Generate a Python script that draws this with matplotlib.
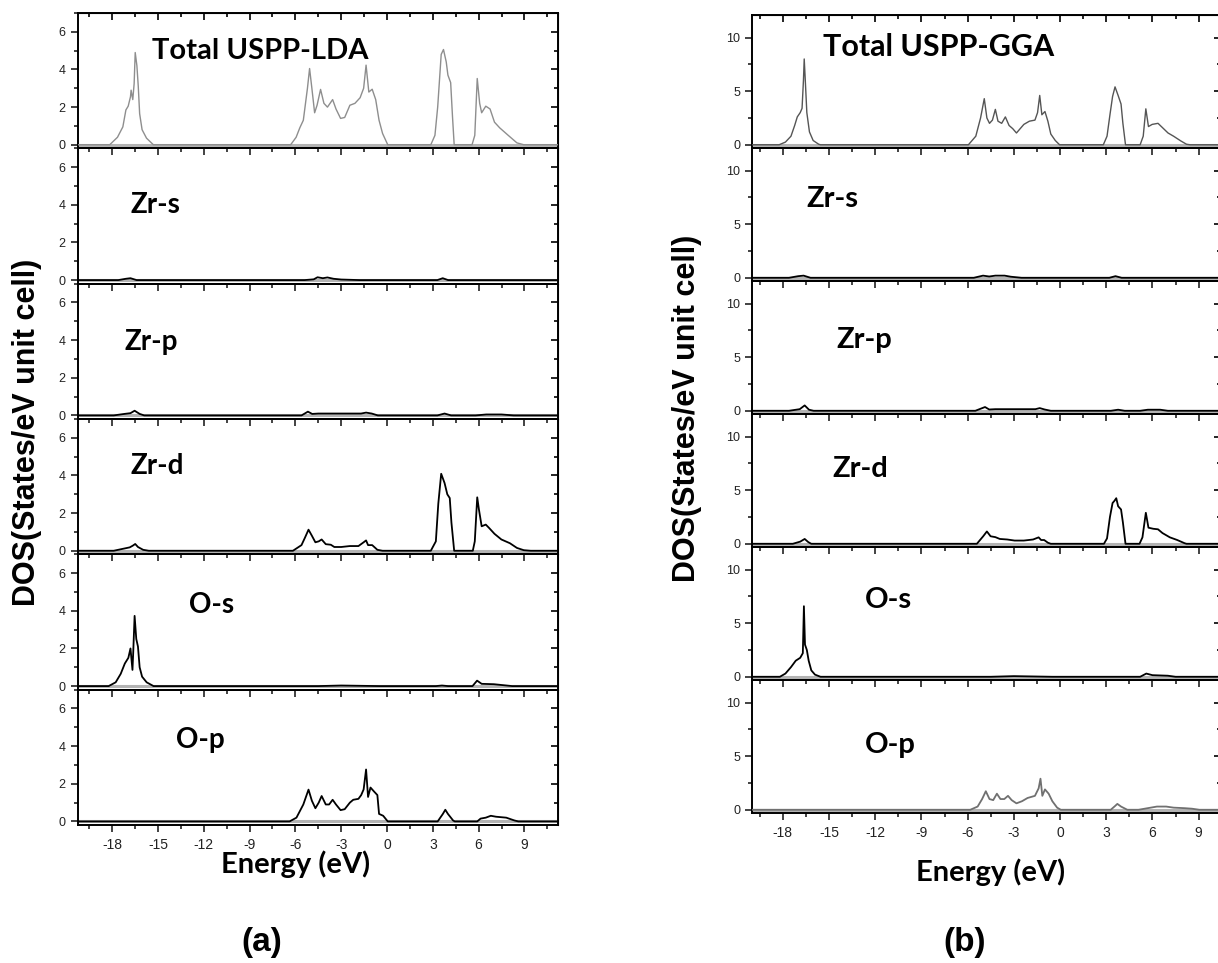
import matplotlib
matplotlib.use("Agg")
import matplotlib.pyplot as plt
import numpy as np
from matplotlib.ticker import MultipleLocator

plt.rcParams["axes.unicode_minus"] = False
plt.rcParams["font.family"] = "Liberation Sans"

# ---------------- (a) USPP-LDA ----------------
lda_tot_e = [-18.16, -17.65, -17.3, -17.1, -16.95, -16.8, -16.76, -16.65, -16.56, -16.49, -16.38, -16.29,
             -16.2, -16.04, -15.75, -15.3,
             -6.31, -5.95, -5.71, -5.48, -5.21, -5.07, -4.92, -4.74, -4.58, -4.35, -4.13, -3.9, -3.56,
             -3.34, -3.04, -2.77, -2.43, -2.1, -1.76, -1.53, -1.37, -1.19, -0.97, -0.74, -0.52, -0.29, 0.05,
             2.87, 3.14, 3.32, 3.55, 3.7, 3.88, 3.99, 4.17, 4.29, 4.4,
             5.57, 5.75, 5.91, 6.07, 6.2, 6.47, 6.75, 7.04, 7.38, 7.94, 8.51, 8.96]
lda_tot_d = [0, 0.4, 0.95, 1.85, 2.05, 2.55, 2.9, 2.4, 3.25, 4.9, 4.2, 3.1,
             1.65, 0.8, 0.35, 0,
             0, 0.4, 0.9, 1.3, 3.0, 4.05, 3.0, 1.7, 2.1, 2.94, 2.2, 2.0, 2.4,
             1.9, 1.4, 1.45, 2.1, 2.2, 2.5, 3.0, 4.23, 2.8, 2.95, 2.4, 1.3, 0.6, 0,
             0, 0.5, 2.0, 4.8, 5.06, 4.4, 3.7, 3.3, 1.5, 0,
             0, 0.5, 3.52, 2.2, 1.7, 2.05, 1.9, 1.2, 0.9, 0.5, 0.1, 0]

lda_zrs_e = [-17.6, -17.1, -16.8, -16.4, -5.4, -4.8, -4.55, -4.2, -3.9, -3.5, -3.0, -1.8, 3.3, 3.65, 4.0]
lda_zrs_d = [0, 0.07, 0.1, 0, 0, 0.04, 0.15, 0.1, 0.14, 0.07, 0.03, 0, 0, 0.1, 0]

lda_zrp_e = [-17.9, -17.2, -16.8, -16.53, -16.2, -15.9, -5.6, -5.18, -4.9, -4.5, -3.0, -1.7, -1.37, -1.0,
             -0.6, 3.3, 3.77, 4.2, 5.8, 6.5, 7.5, 8.3]
lda_zrp_d = [0, 0.08, 0.12, 0.25, 0.08, 0, 0, 0.2, 0.08, 0.1, 0.1, 0.1, 0.15, 0.1,
             0, 0, 0.1, 0, 0, 0.05, 0.05, 0]

lda_zrd_e = [-17.9, -17.2, -16.85, -16.65, -16.49, -16.31, -15.97, -15.6,
             -6.16, -5.6, -5.37, -5.14, -4.92, -4.69, -4.47, -4.28, -4.01, -3.68, -3.45, -3.0, -2.43,
             -1.87, -1.53, -1.37, -1.24, -0.97, -0.63, -0.29,
             2.87, 3.2, 3.36, 3.55, 3.77, 3.95, 4.11, 4.22, 4.4,
             5.62, 5.75, 5.91, 6.02, 6.2, 6.47, 6.7, 7.04, 7.49, 8.05, 8.51, 8.96, 9.41]
lda_zrd_d = [0, 0.12, 0.18, 0.27, 0.36, 0.2, 0.05, 0,
             0, 0.3, 0.7, 1.12, 0.8, 0.45, 0.5, 0.6, 0.35, 0.32, 0.2, 0.2, 0.25,
             0.25, 0.45, 0.55, 0.3, 0.3, 0.05, 0,
             0, 0.5, 2.5, 4.09, 3.6, 3.0, 2.8, 1.5, 0,
             0, 0.5, 2.84, 2.2, 1.3, 1.39, 1.2, 0.9, 0.6, 0.4, 0.15, 0.03, 0]

lda_os_e = [-18.23, -17.77, -17.44, -17.17, -16.94, -16.8, -16.67, -16.62, -16.53, -16.42, -16.31,
            -16.2, -16.04, -15.74, -15.29,
            -4.5, -3.0, -0.5, 3.2, 3.6, 4.0, 5.6, 5.9, 6.2, 7.0, 7.6, 8.2]
lda_os_d = [0, 0.2, 0.65, 1.2, 1.5, 2.0, 0.86, 1.8, 3.73, 2.5, 2.1,
            1.0, 0.5, 0.2, 0,
            0, 0.03, 0, 0, 0.03, 0, 0, 0.29, 0.12, 0.1, 0.05, 0]

lda_op_e = [-6.38, -5.93, -5.48, -5.14, -4.92, -4.69, -4.47, -4.28, -4.01, -3.79, -3.56, -3.34,
            -3.04, -2.77, -2.43, -2.21, -1.87, -1.69, -1.53, -1.37, -1.24, -1.08, -0.86, -0.63,
            -0.52, -0.25, 0.05,
            3.32, 3.66, 3.82, 3.99, 4.33, 4.44,
            5.91, 6.13, 6.47, 6.8, 7.14, 7.81, 8.35, 8.6]
lda_op_d = [0, 0.2, 0.9, 1.69, 1.1, 0.7, 1.0, 1.35, 0.9, 0.9, 1.15, 0.9,
            0.6, 0.65, 1.0, 1.15, 1.2, 1.4, 1.7, 2.76, 1.3, 1.8, 1.6, 1.4,
            0.4, 0.3, 0,
            0, 0.4, 0.62, 0.4, 0.05, 0,
            0, 0.15, 0.2, 0.3, 0.25, 0.2, 0.05, 0]

# ---------------- (b) USPP-GGA ----------------
gga_tot_e = [-18.24, -17.83, -17.47, -17.23, -17.06, -16.87, -16.75, -16.66, -16.61, -16.54, -16.44,
             -16.27, -16.03, -15.67, -15.55,
             -5.95, -5.47, -5.16, -4.92, -4.75, -4.58, -4.39, -4.2, -4.03, -3.79, -3.55, -3.31, -3.07,
             -2.83, -2.59, -2.35, -1.99, -1.63, -1.46, -1.32, -1.18, -0.98, -0.79, -0.6, -0.31, -0.03,
             2.81, 3.05, 3.24, 3.41, 3.57, 3.77, 3.96, 4.08, 4.25,
             5.2, 5.4, 5.57, 5.74, 5.98, 6.36, 6.65, 7.01, 7.37, 7.85, 8.21, 8.45]
gga_tot_d = [0, 0.25, 0.8, 1.8, 2.6, 3.0, 3.4, 6.0, 8.0, 6.0, 3.0,
             1.2, 0.4, 0.05, 0,
             0, 0.8, 2.5, 4.3, 2.5, 2.0, 2.3, 3.3, 2.2, 2.0, 2.6, 1.8, 1.5,
             1.1, 1.5, 1.9, 2.2, 2.3, 3.0, 4.6, 2.8, 3.1, 2.2, 1.0, 0.4, 0,
             0, 0.8, 2.8, 4.5, 5.4, 4.6, 3.8, 2.0, 0,
             0, 0.8, 3.35, 1.7, 1.9, 2.0, 1.6, 1.1, 0.8, 0.35, 0.05, 0]

gga_zrs_e = [-17.6, -17.0, -16.65, -16.2, -5.6, -5.0, -4.6, -4.2, -3.6, -3.2, -2.5, 3.2, 3.6, 4.0]
gga_zrs_d = [0, 0.15, 0.2, 0, 0, 0.2, 0.12, 0.2, 0.2, 0.1, 0, 0, 0.15, 0]

gga_zrp_e = [-17.6, -16.9, -16.58, -16.3, -16.0, -5.5, -4.87, -4.6, -4.2, -3.0, -1.6, -1.32, -1.0,
             -0.6, 3.3, 3.77, 4.2, 5.2, 5.7, 6.5, 7.0]
gga_zrp_d = [0, 0.15, 0.5, 0.1, 0, 0, 0.35, 0.12, 0.15, 0.15, 0.15, 0.25, 0.12,
             0, 0, 0.1, 0, 0, 0.1, 0.1, 0]

gga_zrd_e = [-17.35, -16.87, -16.58, -16.34, -16.15,
             -5.4, -4.99, -4.75, -4.51, -4.2, -3.91, -3.43, -2.95, -2.35, -1.75, -1.39, -1.23,
             -1.03, -0.79, -0.6,
             2.85, 3.05, 3.24, 3.41, 3.53, 3.65, 3.77, 3.96, 4.08, 4.25,
             5.16, 5.35, 5.57, 5.74, 6.05, 6.36, 6.65, 7.13, 7.61, 8.09, 8.21]
gga_zrd_d = [0, 0.2, 0.45, 0.15, 0,
             0, 0.7, 1.15, 0.7, 0.62, 0.45, 0.4, 0.3, 0.3, 0.4, 0.6, 0.35,
             0.35, 0.1, 0,
             0, 0.5, 2.5, 3.8, 4.0, 4.25, 3.5, 3.2, 2.0, 0,
             0, 0.6, 2.89, 1.5, 1.4, 1.35, 1.0, 0.6, 0.35, 0.05, 0]

gga_os_e = [-18.19, -17.83, -17.47, -17.16, -16.87, -16.7, -16.63, -16.56, -16.44, -16.32, -16.15,
            -15.91, -15.55,
            -4.5, -3.0, -0.5, 5.2, 5.6, 6.0, 7.0, 7.5]
gga_os_d = [0, 0.3, 0.9, 1.5, 1.77, 2.2, 6.58, 3.0, 2.5, 1.5, 0.6,
            0.2, 0,
            0, 0.06, 0, 0, 0.3, 0.15, 0.1, 0]

gga_op_e = [-5.83, -5.35, -5.06, -4.82, -4.58, -4.34, -4.1, -3.87, -3.62, -3.38, -3.14, -2.83,
            -2.47, -2.11, -1.63, -1.39, -1.27, -1.15, -0.98, -0.74, -0.5, -0.19, 0.05,
            3.29, 3.57, 3.72, 3.96, 4.37,
            5.09, 5.69, 6.29, 6.89, 7.37, 8.09, 8.57, 9.05]
gga_op_d = [0, 0.3, 1.0, 1.73, 1.0, 0.9, 1.5, 1.0, 1.0, 1.3, 0.9, 0.6,
            0.8, 1.1, 1.3, 2.0, 2.9, 1.3, 1.9, 1.5, 0.8, 0.2, 0,
            0, 0.35, 0.55, 0.3, 0,
            0, 0.15, 0.3, 0.3, 0.2, 0.15, 0.1, 0]

labels_a = ["Total USPP-LDA", "Zr-s", "Zr-p", "Zr-d", "O-s", "O-p"]
labels_b = ["Total USPP-GGA", "Zr-s", "Zr-p", "Zr-d", "O-s", "O-p"]
curves_a = [(lda_tot_e, lda_tot_d), (lda_zrs_e, lda_zrs_d), (lda_zrp_e, lda_zrp_d),
            (lda_zrd_e, lda_zrd_d), (lda_os_e, lda_os_d), (lda_op_e, lda_op_d)]
curves_b = [(gga_tot_e, gga_tot_d), (gga_zrs_e, gga_zrs_d), (gga_zrp_e, gga_zrp_d),
            (gga_zrd_e, gga_zrd_d), (gga_os_e, gga_os_d), (gga_op_e, gga_op_d)]
colors_a = ["#8e8e8e", "black", "black", "black", "black", "black"]
colors_b = ["#555555", "black", "black", "black", "black", "#707070"]
# label positions in data units (energy, DOS)
pos_a = [(-15.4, 5.0), (-16.8, 4.0), (-17.2, 3.9), (-16.8, 4.5), (-13.0, 4.3), (-13.8, 4.3)]
pos_b = [(-15.4, 9.15), (-16.5, 7.3), (-14.5, 6.6), (-14.8, 7.0), (-12.7, 7.2), (-12.7, 6.0)]

W, H = 1218.0, 963.0
fig = plt.figure(figsize=(W / 100, H / 100), dpi=100)


def make_stack(x0, x1, y_top, y_bot, xlim, ylim, ymaj, ymin_, curves, labels, colors, pos, fs_tot, fs_lab):
    h = (y_bot - y_top) / 6
    axes = []
    for i in range(6):
        top = y_top + i * h
        ax = fig.add_axes([x0 / W, 1 - (top + h) / H, (x1 - x0) / W, h / H])
        ax.patch.set_visible(False)
        e, d = curves[i]
        e = np.concatenate([[xlim[0]], e, [xlim[1]]])
        d = np.concatenate([[0], d, [0]])
        ax.axhline(0, color="0.7", lw=2.2, zorder=1)
        ax.plot(e, d, color=colors[i], lw=1.0 if i == 0 else 1.3, zorder=3)
        ax.set_xlim(xlim)
        ax.set_ylim(ylim)
        ax.xaxis.set_major_locator(MultipleLocator(3))
        ax.xaxis.set_minor_locator(MultipleLocator(1.5))
        ax.yaxis.set_major_locator(MultipleLocator(ymaj))
        ax.yaxis.set_minor_locator(MultipleLocator(ymin_))
        ax.tick_params(axis="both", which="both", direction="out", colors="#222222",
                       labelsize=9, width=1.2)
        ax.tick_params(which="major", length=5)
        ax.tick_params(which="minor", length=3)
        if i < 5:
            ax.tick_params(axis="x", labelbottom=False)
        else:
            ax.tick_params(axis="x", labelsize=10, pad=4)
        sec = ax.secondary_yaxis("right")
        sec.yaxis.set_major_locator(MultipleLocator(ymaj))
        sec.yaxis.set_minor_locator(MultipleLocator(ymin_))
        sec.tick_params(which="both", direction="in", labelright=False, width=1.2)
        sec.tick_params(which="major", length=5)
        sec.tick_params(which="minor", length=3)
        if i == 0:
            sx = ax.secondary_xaxis("top")
            sx.xaxis.set_major_locator(MultipleLocator(3))
            sx.xaxis.set_minor_locator(MultipleLocator(1.5))
            sx.tick_params(which="both", direction="in", labeltop=False, width=1.2)
            sx.tick_params(which="major", length=5)
            sx.tick_params(which="minor", length=3)
        for s in ax.spines.values():
            s.set_linewidth(1.4)
        ax.text(pos[i][0], pos[i][1], labels[i], fontfamily="Lato", fontweight="bold",
                fontsize=fs_tot if i == 0 else fs_lab, va="center", ha="left")
        axes.append(ax)
    return axes


axes_a = make_stack(77.5, 558, 13, 825, (-20.27, 11.2), (-0.19, 7.0), 2, 1,
                    curves_a, labels_a, colors_a, pos_a, 21, 20)
axes_b = make_stack(752, 1221, 15, 813, (-20.0, 10.45), (-0.3, 12.1), 5, 2.5,
                    curves_b, labels_b, colors_b, pos_b, 22, 21)

fig.text(27 / W, 1 - 432 / H, "DOS(States/eV unit cell)", rotation=90, fontsize=22,
         fontweight="bold", ha="center", va="center")
fig.text(687 / W, 1 - 408 / H, "DOS(States/eV unit cell)", rotation=90, fontsize=22,
         fontweight="bold", ha="center", va="center")
fig.text(296 / W, 1 - 864 / H, "Energy (eV)", fontfamily="Lato", fontweight="bold",
         fontsize=21, ha="center", va="center")
fig.text(991 / W, 1 - 872 / H, "Energy (eV)", fontfamily="Lato", fontweight="bold",
         fontsize=21, ha="center", va="center")
fig.text(262 / W, 1 - 942 / H, "(a)", fontsize=24, fontweight="bold", ha="center", va="center")
fig.text(965 / W, 1 - 942 / H, "(b)", fontsize=24, fontweight="bold", ha="center", va="center")

fig.savefig("out.png", dpi=100, facecolor="white")
